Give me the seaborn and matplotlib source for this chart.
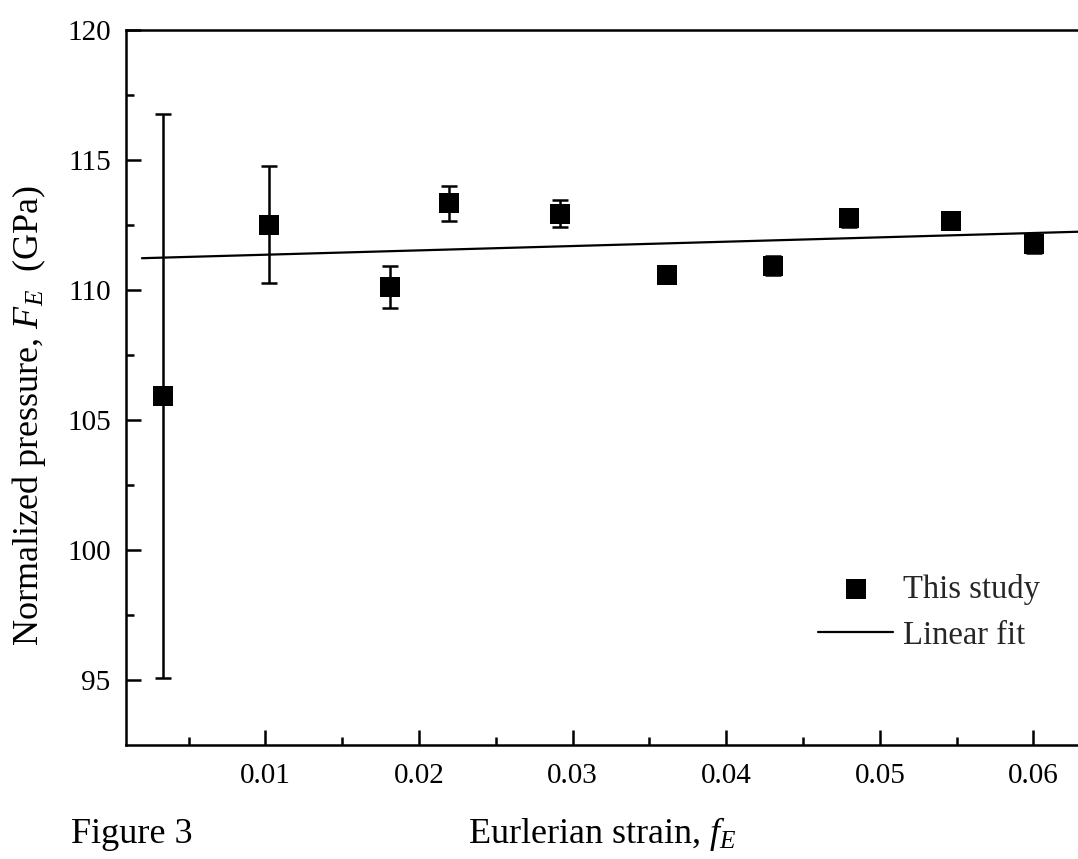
import numpy as np
import pandas as pd
import matplotlib
matplotlib.use("Agg")
import matplotlib.pyplot as plt
import seaborn as sns

# Eulerian strain and normalized pressure with uncertainties
strain = [0.00334, 0.01024, 0.01811, 0.02195, 0.02920, 0.03614, 0.04303, 0.04800, 0.05465, 0.06005]
pressure = [105.92, 112.50, 110.12, 113.33, 112.93, 110.57, 110.93, 112.78, 112.67, 111.78]
pressure_err = [10.83, 2.25, 0.80, 0.68, 0.52, 0.15, 0.36, 0.34, 0.34, 0.34]

# Linear fit F_E = a + b * f_E
fit_intercept = 111.19
fit_slope = 16.7
fit_range = [0.00196, 0.066]

xticks = [0.01, 0.02, 0.03, 0.04, 0.05, 0.06]
xtick_labels = ["0.01", "0.02", "0.03", "0.04", "0.05", "0.06"]
yticks = [95, 100, 105, 110, 115, 120]
ytick_labels = ["95", "100", "105", "110", "115", "120"]

sns.set_theme(style="ticks")
plt.rcParams["font.family"] = ["Liberation Serif", "DejaVu Serif"]
plt.rcParams["mathtext.fontset"] = "custom"
plt.rcParams["mathtext.rm"] = "Liberation Serif"
plt.rcParams["mathtext.it"] = "Liberation Serif:italic"

df = pd.DataFrame({"strain": strain, "pressure": pressure, "err": pressure_err})
fit_x = np.array(fit_range)
fit_df = pd.DataFrame({"strain": fit_x, "pressure": fit_intercept + fit_slope * fit_x})

fig = plt.figure(figsize=(10.78, 8.59), dpi=100)
ax = fig.add_axes([126 / 1078, 114 / 859, 1 - 126 / 1078, (745 - 30) / 859])

ax.errorbar(df["strain"], df["pressure"], yerr=df["err"], fmt="none",
            ecolor="black", elinewidth=1.8, capsize=5.8, capthick=1.8, zorder=2)
sns.scatterplot(data=df, x="strain", y="pressure", marker="s", s=200,
                color="black", linewidth=0, label="This study", ax=ax, zorder=3)
sns.lineplot(data=fit_df, x="strain", y="pressure", color="black",
             linewidth=1.6, label="Linear fit", ax=ax, zorder=2)

ax.set_xlim(0.00092, 0.0629)
ax.set_ylim(92.5, 120)
ax.set_xticks(xticks)
ax.set_xticklabels(xtick_labels)
ax.set_xticks(np.arange(0.005, 0.0629, 0.01), minor=True)
ax.set_yticks(yticks)
ax.set_yticklabels(ytick_labels)
ax.set_yticks(np.arange(97.5, 120, 5), minor=True)

for side in ["left", "bottom", "top"]:
    ax.spines[side].set_linewidth(1.8)
    ax.spines[side].set_color("black")
ax.spines["right"].set_visible(False)

ax.tick_params(axis="both", which="major", direction="in", length=11, width=1.8,
               labelsize=21, color="black", labelcolor="black")
ax.tick_params(axis="both", which="minor", direction="in", length=6, width=1.8,
               color="black")
ax.tick_params(axis="y", which="major", pad=11)
ax.tick_params(axis="x", which="major", pad=13)

ax.set_xlabel("Eurlerian strain, $f_E$", fontsize=26, labelpad=19, color="black")
ax.set_ylabel("Normalized pressure, $F_E$  (GPa)", fontsize=26, color="black")
ax.yaxis.set_label_coords(-0.082, 0.4615)

handles, labels = ax.get_legend_handles_labels()
ax.legend(handles, labels, loc="upper left", bbox_to_anchor=(818 / 1078, 285 / 859),
          bbox_transform=fig.transFigure, frameon=False, fontsize=23.5,
          handlelength=2.3, handletextpad=0.31, labelspacing=0.47,
          borderpad=0, borderaxespad=0, markerscale=1.0)

fig.text(71 / 1078, 16 / 859, "Figure 3", fontsize=26, ha="left", va="baseline", color="black")

fig.savefig("out.png", dpi=100)
